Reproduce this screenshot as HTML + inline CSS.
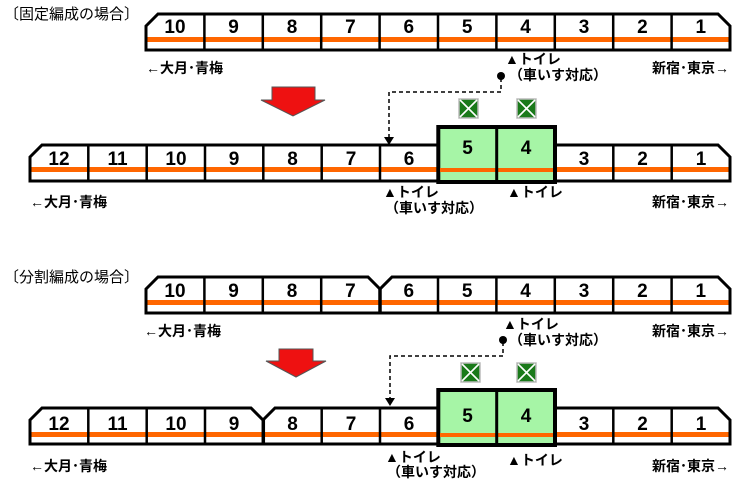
<!DOCTYPE html>
<html><head><meta charset="utf-8"><style>
html,body{margin:0;padding:0;background:#fff;}
svg{display:block}
text{font-family:"Liberation Sans","Noto Sans CJK JP",sans-serif;fill:#000}
.n{font-size:19px;font-weight:bold;text-anchor:middle}
.l{font-size:14px;font-weight:bold}
.o{fill:none;stroke:#000;stroke-width:3;stroke-linejoin:miter}
.d{stroke:#000;stroke-width:2.5}
.s{fill:#ff6600}
.g{fill:#a6f5a6;stroke:#000;stroke-width:4}
.dash{fill:none;stroke:#000;stroke-width:1.5;stroke-dasharray:4,3}
</style></head><body>
<svg width="743" height="483" viewBox="0 0 743 483" xmlns="http://www.w3.org/2000/svg">
<defs>
<g id="ic"><rect x="0" y="0" width="19" height="19" fill="#1a7a1a" stroke="#bbb" stroke-width="1.5"/><path d="M1,1L18,18M18,1L1,18" stroke="#fff" stroke-width="1.6"/></g>
</defs>

<text x="4" y="19" style="font-size:15px">〔固定編成の場合〕</text>
<rect class="s" x="146" y="37" width="584" height="5"/>
<path class="o" d="M146,26L158,14L718,14L730,26L730,50L146,50Z"/>
<g class="d"><line x1="204.4" y1="14" x2="204.4" y2="50"/><line x1="262.8" y1="14" x2="262.8" y2="50"/><line x1="321.2" y1="14" x2="321.2" y2="50"/><line x1="379.6" y1="14" x2="379.6" y2="50"/><line x1="438" y1="14" x2="438" y2="50"/><line x1="496.4" y1="14" x2="496.4" y2="50"/><line x1="554.8" y1="14" x2="554.8" y2="50"/><line x1="613.2" y1="14" x2="613.2" y2="50"/><line x1="671.6" y1="14" x2="671.6" y2="50"/></g>
<text class="n" x="175" y="33">10</text><text class="n" x="233.6" y="33">9</text><text class="n" x="292" y="33">8</text><text class="n" x="350.4" y="33">7</text><text class="n" x="408.8" y="33">6</text><text class="n" x="467.2" y="33">5</text><text class="n" x="525.6" y="33">4</text><text class="n" x="584" y="33">3</text><text class="n" x="642.4" y="33">2</text><text class="n" x="700.8" y="33">1</text>
<text class="l" x="146" y="73">←大月･青梅</text>
<text class="l" x="652" y="73">新宿･東京→</text>
<text class="l" x="505" y="64">▲トイレ</text>
<text class="l" x="509" y="80">（車いす対応）</text>
<circle cx="501" cy="76" r="4"/>
<path class="dash" d="M501,78V92H389V138"/>
<path d="M384,137L394,137L389,145Z"/>
<path d="M272,87H315V100H325L293,116L261,100H272Z" fill="#ee1111" stroke="#555" stroke-width="1"/>

<rect class="s" x="30" y="167" width="700" height="5"/>
<path class="o" d="M30,157L42,145L718,145L730,157L730,181L30,181Z"/>
<g class="d"><line x1="88.3" y1="145" x2="88.3" y2="181"/><line x1="146.7" y1="145" x2="146.7" y2="181"/><line x1="205" y1="145" x2="205" y2="181"/><line x1="263.3" y1="145" x2="263.3" y2="181"/><line x1="321.7" y1="145" x2="321.7" y2="181"/><line x1="380" y1="145" x2="380" y2="181"/><line x1="613.3" y1="145" x2="613.3" y2="181"/><line x1="671.7" y1="145" x2="671.7" y2="181"/></g>
<rect class="g" x="438.3" y="127" width="116.7" height="55"/>
<rect class="s" x="440" y="168" width="113" height="4"/>
<line x1="496.7" y1="127" x2="496.7" y2="182" stroke="#000" stroke-width="3"/>
<text class="n" x="59" y="165">12</text><text class="n" x="117.5" y="165">11</text><text class="n" x="176" y="165">10</text><text class="n" x="234" y="165">9</text><text class="n" x="292.5" y="165">8</text><text class="n" x="351" y="165">7</text><text class="n" x="409" y="165">6</text><text class="n" x="467.5" y="154">5</text><text class="n" x="526" y="154">4</text><text class="n" x="584" y="165">3</text><text class="n" x="642.5" y="165">2</text><text class="n" x="701" y="165">1</text>
<use href="#ic" x="459" y="99"/><use href="#ic" x="517" y="99"/>
<text class="l" x="383" y="197">▲トイレ</text>
<text class="l" x="385" y="213">（車いす対応）</text>
<text class="l" x="507" y="197">▲トイレ</text>
<text class="l" x="30" y="207">←大月･青梅</text>
<text class="l" x="652" y="207">新宿･東京→</text>

<text x="4" y="282" style="font-size:15px">〔分割編成の場合〕</text>
<rect class="s" x="146" y="300" width="584" height="5"/>
<path class="o" d="M146,289L158,277L368,277L380,289L392,277L718,277L730,289L730,313L146,313Z"/>
<g class="d"><line x1="204.4" y1="277" x2="204.4" y2="313"/><line x1="262.8" y1="277" x2="262.8" y2="313"/><line x1="321.2" y1="277" x2="321.2" y2="313"/><line x1="380" y1="289" x2="380" y2="313" stroke-width="3.5"/><line x1="438" y1="277" x2="438" y2="313"/><line x1="496.4" y1="277" x2="496.4" y2="313"/><line x1="554.8" y1="277" x2="554.8" y2="313"/><line x1="613.2" y1="277" x2="613.2" y2="313"/><line x1="671.6" y1="277" x2="671.6" y2="313"/></g>
<text class="n" x="175" y="297">10</text><text class="n" x="233.6" y="297">9</text><text class="n" x="292" y="297">8</text><text class="n" x="350.4" y="297">7</text><text class="n" x="408.8" y="297">6</text><text class="n" x="467.2" y="297">5</text><text class="n" x="525.6" y="297">4</text><text class="n" x="584" y="297">3</text><text class="n" x="642.4" y="297">2</text><text class="n" x="700.8" y="297">1</text>
<text class="l" x="144" y="336">←大月･青梅</text>
<text class="l" x="652" y="336">新宿･東京→</text>
<text class="l" x="503" y="329">▲トイレ</text>
<text class="l" x="509" y="345">（車いす対応）</text>
<circle cx="503" cy="340" r="4"/>
<path class="dash" d="M503,342V356H390V398"/>
<path d="M385,398L395,398L390,406Z"/>
<path d="M279,349H313V361H326L296,377L266,361H279Z" fill="#ee1111" stroke="#555" stroke-width="1"/>

<rect class="s" x="30" y="432" width="700" height="5"/>
<path class="o" d="M30,420L42,408L251,408L263,420L275,408L718,408L730,420L730,444L30,444Z"/>
<g class="d"><line x1="88.3" y1="408" x2="88.3" y2="444"/><line x1="146.7" y1="408" x2="146.7" y2="444"/><line x1="205" y1="408" x2="205" y2="444"/><line x1="263.3" y1="420" x2="263.3" y2="444" stroke-width="3.5"/><line x1="321.7" y1="408" x2="321.7" y2="444"/><line x1="380" y1="408" x2="380" y2="444"/><line x1="613.3" y1="408" x2="613.3" y2="444"/><line x1="671.7" y1="408" x2="671.7" y2="444"/></g>
<rect class="g" x="438.3" y="390" width="116.7" height="55"/>
<rect class="s" x="440" y="433" width="113" height="4"/>
<line x1="496.7" y1="390" x2="496.7" y2="445" stroke="#000" stroke-width="3"/>
<text class="n" x="59" y="430">12</text><text class="n" x="117.5" y="430">11</text><text class="n" x="176" y="430">10</text><text class="n" x="234" y="430">9</text><text class="n" x="292.5" y="430">8</text><text class="n" x="351" y="430">7</text><text class="n" x="409" y="430">6</text><text class="n" x="467.5" y="422">5</text><text class="n" x="526" y="422">4</text><text class="n" x="584" y="430">3</text><text class="n" x="642.5" y="430">2</text><text class="n" x="701" y="430">1</text>
<use href="#ic" x="461" y="363"/><use href="#ic" x="517" y="363"/>
<text class="l" x="385" y="462">▲トイレ</text>
<text class="l" x="387" y="477">（車いす対応）</text>
<text class="l" x="507" y="465">▲トイレ</text>
<text class="l" x="30" y="471">←大月･青梅</text>
<text class="l" x="652" y="471">新宿･東京→</text>
</svg>
</body></html>
